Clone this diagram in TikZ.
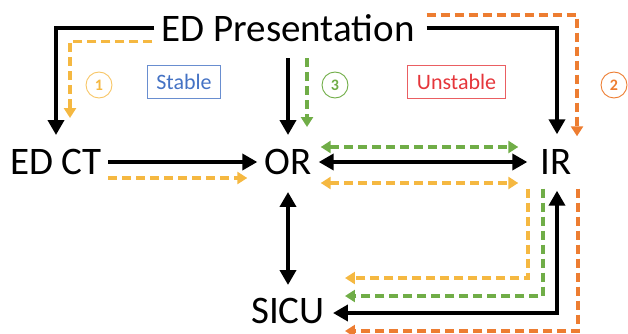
\documentclass[tikz,border=0pt]{standalone}
\usepackage{fontspec}
\setmainfont{Carlito}
\usetikzlibrary{arrows.meta}
\definecolor{gold}{HTML}{F5B841}
\definecolor{orng}{HTML}{ED7D31}
\definecolor{grn}{HTML}{70AD47}
\definecolor{blu}{HTML}{4472C4}
\definecolor{rd}{HTML}{E5363B}
\begin{document}
\begin{tikzpicture}[x=1pt,y=-1pt,
		place/.style={inner sep=0pt,font=\fontsize{39}{39}\selectfont},
		blk/.style={line width=4pt,-{Triangle[length=15pt,width=16pt]}},
		dblk/.style={line width=4pt,{Triangle[length=15pt,width=16pt]}-{Triangle[length=15pt,width=16pt]}},
		dsh/.style={line width=3.2pt,dash pattern=on 9pt off 5pt,-{Triangle[length=10pt,width=12pt]}},
		ddsh/.style={line width=3.2pt,dash pattern=on 9pt off 5pt,{Triangle[length=10pt,width=12pt]}-{Triangle[length=10pt,width=12pt]}},
		tag/.style={draw,line width=0.8pt,minimum height=33pt,inner xsep=9pt,font=\fontsize{22}{22}\selectfont},
		num/.style={draw,circle,line width=0.9pt,minimum size=26pt,inner sep=0pt,font=\fontsize{16}{16}\bfseries}]
		\useasboundingbox (0,0) rectangle (628,334);
		\node[place] (pres) at (288,28.5) {ED Presentation};
		\node[place] (edct) at (56,162) {ED CT};
		\node[place] (or) at (288,162) {OR};
		\node[place] (ir) at (556,162) {IR};
		\node[place] (sicu) at (288,311) {SICU};
		\node[tag,draw=blu!80,text=blu] (stable) at (184,81.5) {Stable};
		\node[tag,draw=rd!80,text=rd] (unstable) at (456.5,81.5) {Unstable};
		\node[num,draw=gold!80,text=gold] (one) at (99,85) {1};
		\node[num,draw=orng,text=orng] (two) at (614,85) {2};
		\node[num,draw=grn,text=grn] (three) at (335,85) {3};
		% from the ED
		\draw[blk] ([xshift=-7pt]pres.west) -| ([yshift=14pt]edct.north);
		\draw[dsh,gold] ([xshift=-9pt,yshift=-13pt]pres.west) -| ([xshift=14pt,yshift=31pt]edct.north);
		\draw[blk] ([yshift=-16pt]pres.south) -- ([yshift=14pt]or.north);
		\draw[dsh,grn] ([xshift=19pt,yshift=-16pt]pres.south) -- ([xshift=19pt,yshift=22pt]or.north);
		\draw[blk] ([xshift=12pt]pres.east) -| ([xshift=1pt,yshift=15pt]ir.north);
		\draw[dsh,orng] ([xshift=12pt,yshift=13.5pt]pres.east) -| ([xshift=21pt,yshift=13pt]ir.north);
		% middle row
		\draw[blk] ([xshift=6pt]edct.east) -- ([xshift=-7pt]or.west);
		\draw[dsh,gold] ([xshift=6pt,yshift=-16pt]edct.east) -- ([xshift=-17pt,yshift=-16pt]or.west);
		\draw[dblk] ([xshift=7pt]or.east) -- ([xshift=-13pt]ir.west);
		\draw[ddsh,grn] ([xshift=9pt,yshift=15pt]or.east) -- ([xshift=-22pt,yshift=15pt]ir.west);
		\draw[ddsh,gold] ([xshift=9pt,yshift=-21pt]or.east) -- ([xshift=-22pt,yshift=-21pt]ir.west);
		% to the SICU
		\draw[dblk] ([yshift=-17pt]or.south) -- ([yshift=13pt]sicu.north);
		\draw[dblk] ([xshift=1pt,yshift=-16pt]ir.south) |- ([xshift=8pt,yshift=-2pt]sicu.east);
		\draw[dsh,gold] ([xshift=-28pt,yshift=-14pt]ir.south) |- ([xshift=20pt,yshift=33pt]sicu.east);
		\draw[dsh,grn] ([xshift=-13pt,yshift=-14pt]ir.south) |- ([xshift=20pt,yshift=15pt]sicu.east);
		\draw[dsh,orng] ([xshift=22pt,yshift=-14pt]ir.south) |- ([xshift=20pt,yshift=-20pt]sicu.east);
	\end{tikzpicture}
\end{document}
